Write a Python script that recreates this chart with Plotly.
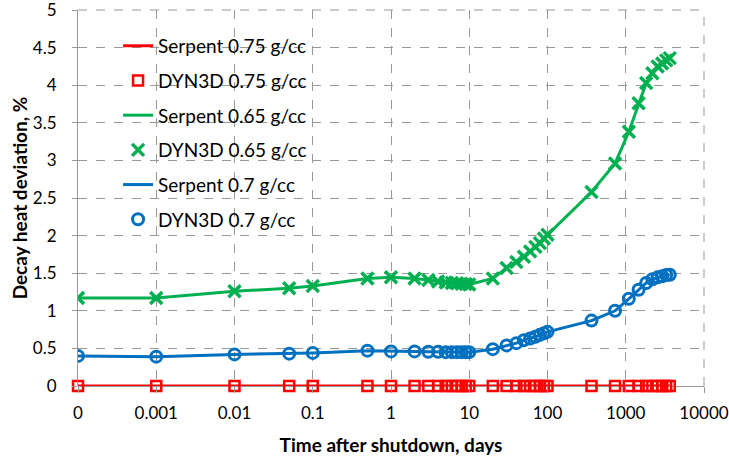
import plotly.graph_objects as go

# time after shutdown, days (0 plotted at 1e-4 on log axis, labelled "0")
time_days = [1e-4, 0.001, 0.01, 0.05, 0.1, 0.5, 1, 2, 3, 4, 5, 6, 7, 8, 9, 10,
             20, 30, 40, 50, 60, 70, 80, 90, 100,
             365, 730, 1095, 1460, 1825, 2190, 2555, 2920, 3285, 3650]

dev_075 = [0.0] * len(time_days)
dev_065 = [1.17, 1.17, 1.26, 1.30, 1.33, 1.43, 1.445, 1.43, 1.41, 1.39, 1.375, 1.37, 1.365, 1.36, 1.355, 1.35,
           1.43, 1.57, 1.65, 1.72, 1.79, 1.85, 1.90, 1.96, 2.01,
           2.58, 2.96, 3.38, 3.76, 4.03, 4.16, 4.25, 4.29, 4.33, 4.36]
dev_070 = [0.40, 0.39, 0.42, 0.43, 0.44, 0.47, 0.46, 0.46, 0.455, 0.455, 0.45, 0.45, 0.45, 0.45, 0.45, 0.45,
           0.49, 0.54, 0.57, 0.61, 0.63, 0.655, 0.68, 0.70, 0.72,
           0.87, 1.00, 1.16, 1.28, 1.37, 1.42, 1.445, 1.46, 1.475, 1.48]

x_tick_vals = [1e-4, 1e-3, 1e-2, 1e-1, 1, 10, 100, 1000, 10000]
x_tick_text = ["0", "0.001", "0.01", "0.1", "1", "10", "100", "1000", "10000"]
y_tick_vals = [0, 0.5, 1, 1.5, 2, 2.5, 3, 3.5, 4, 4.5, 5]
y_tick_text = ["0", "0.5", "1", "1.5", "2", "2.5", "3", "3.5", "4", "4.5", "5"]

RED, GREEN, BLUE = "#FF0000", "#00B050", "#0070C0"
GRID = "#999999"
FONT = "Lato, Open Sans, sans-serif"

fig = go.Figure()
fig.add_trace(go.Scatter(x=time_days, y=dev_075, mode="lines", name="Serpent 0.75 g/cc",
                         line=dict(color=RED, width=3), legendgroup="a", cliponaxis=False))
fig.add_trace(go.Scatter(x=time_days, y=dev_075, mode="markers", name="DYN3D 0.75 g/cc",
                         marker=dict(symbol="square-open", size=10, color=RED, line=dict(width=2.5, color=RED)),
                         legendgroup="b", cliponaxis=False))
fig.add_trace(go.Scatter(x=time_days, y=dev_065, mode="lines", name="Serpent 0.65 g/cc",
                         line=dict(color=GREEN, width=3), legendgroup="c"))
fig.add_trace(go.Scatter(x=time_days, y=dev_065, mode="markers", name="DYN3D 0.65 g/cc",
                         marker=dict(symbol="x-thin-open", size=12, color=GREEN, line=dict(width=3.5, color=GREEN)),
                         legendgroup="d"))
fig.add_trace(go.Scatter(x=time_days, y=dev_070, mode="lines", name="Serpent 0.7 g/cc",
                         line=dict(color=BLUE, width=3), legendgroup="e"))
fig.add_trace(go.Scatter(x=time_days, y=dev_070, mode="markers", name="DYN3D 0.7 g/cc",
                         marker=dict(symbol="circle-open", size=11, color=BLUE, line=dict(width=3, color=BLUE)),
                         legendgroup="f"))

# top and right dashed grid borders
fig.add_shape(type="line", xref="paper", yref="paper", x0=0, x1=1, y0=1, y1=1,
              line=dict(color=GRID, width=1, dash="dash"), layer="below")
fig.add_shape(type="line", xref="paper", yref="paper", x0=1, x1=1, y0=0, y1=1,
              line=dict(color=GRID, width=1, dash="dash"), layer="below")

fig.update_layout(
    width=729, height=456,
    margin=dict(l=78, r=25, t=10, b=70, autoexpand=False),
    paper_bgcolor="white", plot_bgcolor="rgba(0,0,0,0)",
    font=dict(family=FONT, size=17, color="black"),
    legend=dict(x=0.064, y=0.955, xanchor="left", yanchor="top",
                bgcolor="rgba(0,0,0,0)", font=dict(size=19), tracegroupgap=7,
                itemwidth=30),
    xaxis=dict(type="log", range=[-4, 4], tickvals=x_tick_vals, ticktext=x_tick_text,
               showgrid=True, gridcolor=GRID, griddash="dash", gridwidth=1,
               showline=False, zeroline=False, ticks="outside", ticklen=6, tickcolor=GRID,
               ticklabelstandoff=6, ticklabeloverflow="allow",
               title=dict(text="<b>Time after shutdown, days</b>", font=dict(size=19), standoff=16),
               tickfont=dict(size=17)),
    yaxis=dict(range=[0, 5], tickvals=y_tick_vals, ticktext=y_tick_text,
               showgrid=True, gridcolor=GRID, griddash="dash", gridwidth=1,
               showline=True, linecolor=GRID, linewidth=1,
               zeroline=True, zerolinecolor=GRID, zerolinewidth=1,
               ticks="outside", ticklen=5, tickcolor=GRID,
               ticklabelstandoff=12, ticklabeloverflow="allow",
               title=dict(text="<b>Decay heat deviation, %</b>", font=dict(size=19), standoff=0),
               tickfont=dict(size=17)),
)

fig.write_html("out.html", config={"displayModeBar": False},
               post_script="document.body.style.margin='0';")
